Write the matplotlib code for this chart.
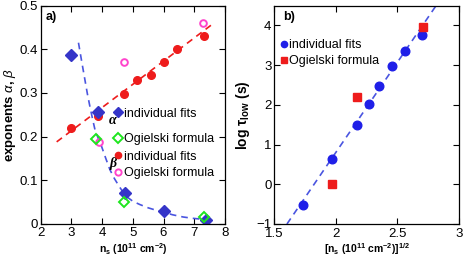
import matplotlib.pyplot as plt
from matplotlib.lines import Line2D

plt.rcParams['font.family'] = ['Liberation Sans', 'DejaVu Sans']
plt.rcParams['mathtext.fontset'] = 'custom'
plt.rcParams['mathtext.rm'] = 'Liberation Sans'
plt.rcParams['mathtext.it'] = 'Liberation Sans:italic'
plt.rcParams['mathtext.bf'] = 'Liberation Sans:bold'

# panel a) exponents vs n_s
alpha_x = [3.0, 3.86, 4.71, 5.145, 5.58, 6.01, 6.45, 7.31]
alpha_y = [0.220, 0.248, 0.298, 0.330, 0.340, 0.370, 0.400, 0.430]
alpha_og_x = [3.89, 4.72, 7.29]
alpha_og_y = [0.188, 0.370, 0.460]
beta_x = [2.99, 3.875, 4.73, 6.01, 7.37]
beta_y = [0.388, 0.257, 0.070, 0.030, 0.009]
beta_og_x = [3.80, 4.71, 7.33]
beta_og_y = [0.194, 0.051, 0.017]
alpha_fit_x = [2.52, 7.62]
alpha_fit_y = [0.188, 0.459]
beta_fit_x = [3.23, 3.34, 3.44, 3.52, 3.605, 3.69, 3.77, 3.88, 3.985, 4.12, 4.256,
              4.40, 4.53, 4.66, 4.80, 5.0, 5.23, 5.5, 5.78, 6.0, 6.3, 6.64, 6.95, 7.24]
beta_fit_y = [0.415, 0.370, 0.330, 0.298, 0.268, 0.240, 0.215, 0.195, 0.177, 0.150, 0.124,
              0.104, 0.089, 0.075, 0.0625, 0.052, 0.0445, 0.037, 0.031, 0.027, 0.021, 0.016, 0.013, 0.011]

# panel b) log tau_low vs sqrt(n_s)
tau_x = [1.735, 1.966, 2.169, 2.271, 2.347, 2.453, 2.558, 2.699]
tau_y = [-0.51, 0.64, 1.50, 2.03, 2.47, 2.98, 3.35, 3.77]
tau_og_x = [1.971, 2.171, 2.704]
tau_og_y = [0.0, 2.21, 3.97]
tau_fit_x = [1.603, 2.814]
tau_fit_y = [-1.0, 4.5]

red = '#ee1c1c'
blue = '#3535c8'
green = '#1ee61e'
magenta = '#ff44cc'
bblue = '#1f1fe8'
dblue = '#4a55e0'

fig = plt.figure(figsize=(4.63, 2.60), dpi=100)
ax1 = fig.add_axes([0.0879, 0.1385, 0.398, 0.840])
ax2 = fig.add_axes([0.5924, 0.1385, 0.399, 0.840])

for ax in (ax1, ax2):
    ax.tick_params(direction='in', top=True, right=True, length=4, width=0.8,
                   labelsize=9.5, pad=2)
    for s in ax.spines.values():
        s.set_linewidth(0.9)

# --- a)
ax1.plot(alpha_fit_x, alpha_fit_y, '--', color=red, lw=1.2, dashes=(4, 3))
ax1.plot(beta_fit_x, beta_fit_y, '--', color=dblue, lw=1.2, dashes=(4, 3))
ax1.plot(alpha_x, alpha_y, 'o', color=red, ms=5.5, ls='none')
ax1.plot(alpha_og_x, alpha_og_y, 'o', mfc='none', mec=magenta, mew=1.4, ms=4.8, ls='none')
ax1.plot(beta_x, beta_y, 'D', color=blue, ms=6, ls='none')
ax1.plot(beta_og_x, beta_og_y, 'D', mfc='none', mec=green, mew=1.4, ms=5, ls='none')
ax1.set_xlim(2, 8)
ax1.set_ylim(0, 0.5)
ax1.set_xticks([2, 3, 4, 5, 6, 7, 8])
ax1.set_yticks([0, 0.1, 0.2, 0.3, 0.4, 0.5])
ax1.set_yticklabels(['0', '0.1', '0.2', '0.3', '0.4', '0.5'])
ax1.set_xlabel(r'n$_\mathregular{s}$ (10$^{\mathregular{11}}$ cm$^{\mathregular{-2}}$)',
               fontsize=7.5, fontweight='bold', labelpad=2)
ax1.set_ylabel(r'exponents $\alpha$, $\beta$', fontsize=9.5, fontweight='bold', labelpad=1)
ax1.text(0.025, 0.975, 'a)', transform=ax1.transAxes, fontsize=9,
         fontweight='bold', va='top', ha='left')

h1 = [Line2D([], [], marker='D', color=blue, ms=5.5, ls='none'),
      Line2D([], [], marker='D', mfc='none', mec=green, mew=1.4, ms=5, ls='none')]
leg1 = ax1.legend(h1, ['individual fits', 'Ogielski formula'], loc='center left',
                  bbox_to_anchor=(0.4, 0.446), frameon=False, fontsize=9,
                  handlelength=0.6, handletextpad=0.15, labelspacing=1.08,
                  borderpad=0, borderaxespad=0)
ax1.add_artist(leg1)
h2 = [Line2D([], [], marker='o', color=red, ms=4.5, ls='none'),
      Line2D([], [], marker='o', mfc='none', mec=magenta, mew=1.4, ms=4.5, ls='none')]
ax1.legend(h2, ['individual fits', 'Ogielski formula'], loc='center left',
           bbox_to_anchor=(0.4, 0.27), frameon=False, fontsize=9,
           handlelength=0.6, handletextpad=0.15, labelspacing=0.38,
           borderpad=0, borderaxespad=0)
ax1.text(4.34, 0.238, 'α', fontsize=10, fontweight='bold', style='italic',
         family='Liberation Serif', ha='center', va='center')
ax1.text(4.36, 0.139, 'β', fontsize=10, fontweight='bold', style='italic',
         family='Liberation Serif', ha='center', va='center')

# --- b)
ax2.plot(tau_fit_x, tau_fit_y, '--', color=dblue, lw=1.2, dashes=(4, 3))
ax2.plot(tau_x, tau_y, 'o', color=bblue, ms=6.2, ls='none')
ax2.plot(tau_og_x, tau_og_y, 's', color=red, ms=5.5, ls='none')
ax2.set_xlim(1.5, 3)
ax2.set_ylim(-1, 4.5)
ax2.set_xticks([1.5, 2, 2.5, 3])
ax2.set_xticklabels(['1.5', '2', '2.5', '3'])
ax2.set_yticks([-1, 0, 1, 2, 3, 4])
ax2.tick_params(axis='x', pad=3)
ax2.set_xlabel(r'[n$_\mathregular{s}$ (10$^{\mathregular{11}}$ cm$^{\mathregular{-2}}$)]$^{\mathregular{1/2}}$',
               fontsize=7.5, fontweight='bold', labelpad=1)
ax2.set_ylabel(r'log $\mathregular{\tau_{low}}$ (s)', fontsize=10, fontweight='bold', labelpad=3)
ax2.text(0.05, 0.975, 'b)', transform=ax2.transAxes, fontsize=9,
         fontweight='bold', va='top', ha='left')
h3 = [Line2D([], [], marker='o', color=bblue, ms=4.5, ls='none'),
      Line2D([], [], marker='s', color=red, ms=4.5, ls='none')]
ax2.legend(h3, ['individual fits', 'Ogielski formula'], loc='upper left',
           bbox_to_anchor=(0.03, 0.845), frameon=False, fontsize=9,
           handlelength=0.6, handletextpad=0.15, labelspacing=0.3,
           borderpad=0, borderaxespad=0)

fig.savefig('out.png', dpi=100)
